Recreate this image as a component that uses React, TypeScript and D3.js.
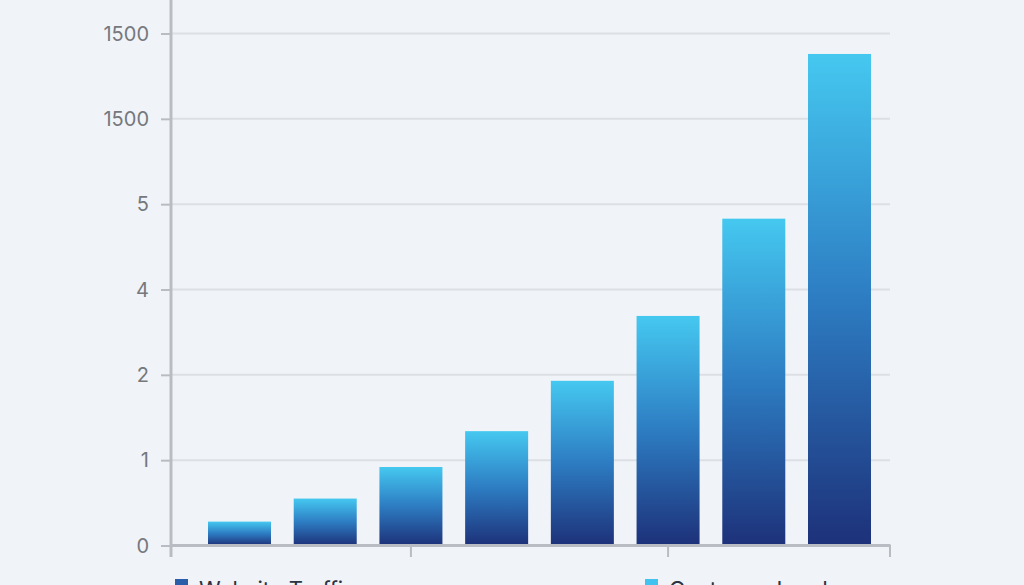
import { useEffect, useRef } from 'react'
import * as d3 from 'd3'

const categories = ['P1', 'P2', 'P3', 'P4', 'P5', 'P6', 'P7', 'P8']
const values = [0.28, 0.55, 0.92, 1.34, 1.93, 2.69, 3.83, 5.76]
const tickLabels = ['0', '1', '2', '4', '5', '1500', '1500']
const legendItems = [
  { label: 'Website Traffic', color: '#2a5ea8' },
  { label: 'Customer Leads', color: '#42c2ee' },
]

const WIDTH = 1024
const HEIGHT = 585

export default function App() {
  const svgRef = useRef<SVGSVGElement>(null)

  useEffect(() => {
    if (!svgRef.current) return
    const svg = d3.select(svgRef.current)
    svg.selectAll('*').remove()

    const axisX0 = 171
    const axisX1 = 890
    const baseY = 545.5

    const x = d3.scaleBand<string>()
      .domain(categories)
      .range([208, 871])
      .paddingInner(0.265)
      .paddingOuter(0)

    const y = d3.scaleLinear()
      .domain([0, 6])
      .range([baseY, 33.5])

    // background
    svg.append('rect')
      .attr('width', WIDTH)
      .attr('height', HEIGHT)
      .attr('fill', '#f0f3f7')

    const defs = svg.append('defs')
    const grad = defs.append('linearGradient')
      .attr('id', 'barGrad')
      .attr('x1', 0).attr('y1', 0)
      .attr('x2', 0).attr('y2', 1)
    grad.append('stop').attr('offset', '0%').attr('stop-color', '#45c8f0')
    grad.append('stop').attr('offset', '50%').attr('stop-color', '#2d7cc2')
    grad.append('stop').attr('offset', '100%').attr('stop-color', '#1d3179')

    // gridlines
    const ticks = d3.range(tickLabels.length)
    svg.append('g')
      .selectAll('line')
      .data(ticks.slice(1))
      .enter().append('line')
      .attr('x1', axisX0)
      .attr('x2', axisX1)
      .attr('y1', d => y(d))
      .attr('y2', d => y(d))
      .attr('stroke', '#dcdfe4')
      .attr('stroke-width', 2)

    // bars
    svg.append('g')
      .selectAll('rect')
      .data(values)
      .enter().append('rect')
      .attr('x', (_, i) => x(categories[i])!)
      .attr('y', d => y(d))
      .attr('width', x.bandwidth())
      .attr('height', d => y(0) - y(d))
      .attr('fill', 'url(#barGrad)')

    // y axis
    const yAxis = d3.axisLeft(y)
      .tickValues(ticks)
      .tickFormat((d) => tickLabels[d as number])
      .tickSize(10)
      .tickPadding(12)
    const yg = svg.append('g')
      .attr('transform', `translate(${axisX0},0)`)
      .call(yAxis)
    yg.select('.domain').remove()
    yg.selectAll('.tick line').attr('stroke', '#b9bdc3').attr('stroke-width', 2)
    yg.selectAll('.tick text')
      .attr('fill', '#75787d')
      .style('font-family', 'Inter, "Open Sans", sans-serif')
      .style('font-size', '20px')
      .attr('dy', '0.34em')

    svg.append('line')
      .attr('x1', axisX0).attr('x2', axisX0)
      .attr('y1', 0).attr('y2', 557)
      .attr('stroke', '#b9bdc3')
      .attr('stroke-width', 3)

    // x axis
    svg.append('line')
      .attr('x1', axisX0).attr('x2', axisX1)
      .attr('y1', baseY).attr('y2', baseY)
      .attr('stroke', '#b9bdc3')
      .attr('stroke-width', 3)

    const xTickCats = [categories[2], categories[5]]
    svg.append('g')
      .selectAll('line')
      .data(xTickCats)
      .enter().append('line')
      .attr('x1', d => x(d)! + x.bandwidth() / 2)
      .attr('x2', d => x(d)! + x.bandwidth() / 2)
      .attr('y1', baseY)
      .attr('y2', 557)
      .attr('stroke', '#b9bdc3')
      .attr('stroke-width', 2)

    svg.append('line')
      .attr('x1', axisX1).attr('x2', axisX1)
      .attr('y1', baseY - 1).attr('y2', 557)
      .attr('stroke', '#b9bdc3')
      .attr('stroke-width', 2)

    // legend (cut off at the bottom edge, as in the reference)
    const legendX = [175, 645]
    const lg = svg.append('g')
      .selectAll('g')
      .data(legendItems)
      .enter().append('g')
      .attr('transform', (_, i) => `translate(${legendX[i]},579)`)
    lg.append('rect')
      .attr('width', 13)
      .attr('height', 13)
      .attr('fill', d => d.color)
    lg.append('text')
      .attr('x', 24)
      .attr('y', 18)
      .attr('fill', '#2b3243')
      .style('font-family', 'Inter, "Open Sans", sans-serif')
      .style('font-size', '22px')
      .text(d => d.label)
  }, [])

  return (
    <div style={{ position: 'fixed', left: 0, top: 0 }}>
      <svg ref={svgRef} width={WIDTH} height={HEIGHT} style={{ display: 'block' }} />
    </div>
  )
}
